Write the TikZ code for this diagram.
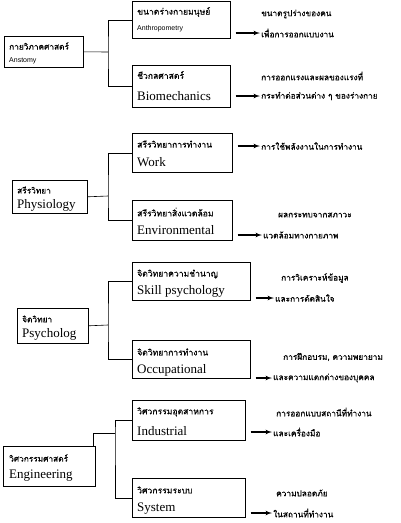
\documentclass[tikz,border=0pt]{standalone}
\usepackage{fontspec}
\setmainfont{Liberation Serif}
\newfontfamily\thaifont[Script=Thai,FakeBold=0.5]{Loma}
\newfontfamily\arialfont{Liberation Sans}
\usetikzlibrary{arrows}
\tikzset{
  box/.style={draw, line width=0.6pt, anchor=north west, inner sep=0pt},
  th/.style={font=\thaifont\fontsize{8.3}{9}\selectfont, anchor=west, inner sep=1pt},
  thb/.style={font=\thaifont\fontsize{8.6}{9}\selectfont, anchor=west, inner sep=1pt},
  en/.style={font=\fontsize{13}{14}\selectfont, anchor=west, inner sep=1pt},
  ensm/.style={font=\arialfont\fontsize{7}{8}\selectfont, anchor=west, inner sep=1pt},
  conn/.style={line width=0.6pt},
  arr/.style={->, >=latex', line width=1.2pt}
}
\begin{document}
\begin{tikzpicture}[x=1pt, y=-1pt]
  \useasboundingbox (0,0) rectangle (400,523);
  % Hauptgruppen
  \node[box, minimum width=79pt, minimum height=31pt] (ana) at (4,36) {};
  \node[th] (anaT) at (8,46) {กายวิภาคศาสตร์};
  \node[ensm] (anaE) at (8,61) {Anstomy};
  \node[box, minimum width=75pt, minimum height=33pt] (phy) at (12,180) {};
  \node[th] (phyT) at (16,190) {สรีรวิทยา};
  \node[en] (phyE) at (16,205) {Physiology};
  \node[box, minimum width=71pt, minimum height=35pt] (psy) at (17,308) {};
  \node[th] (psyT) at (21,319) {จิตวิทยา};
  \node[en] (psyE) at (21,334) {Psycholog};
  \node[box, minimum width=92pt, minimum height=40pt] (eng) at (3,446) {};
  \node[th] (engT) at (8,458) {วิศวกรรมศาสตร์};
  \node[en] (engE) at (8,476) {Engineering};
  % Teilgebiete
  \node[box, minimum width=98pt, minimum height=37pt] (anth) at (132,1) {};
  \node[thb] (anthT) at (136,12) {ขนาดร่างกายมนุษย์};
  \node[ensm] (anthE) at (136,29) {Anthropometry};
  \node[box, minimum width=98pt, minimum height=42pt] (bio) at (132,65) {};
  \node[thb] (bioT) at (136,75) {ชีวกลศาสตร์};
  \node[en] (bioE) at (136,96) {Biomechanics};
  \node[box, minimum width=100pt, minimum height=39pt] (work) at (132,133) {};
  \node[thb] (workT) at (136,144) {สรีรวิทยาการทำงาน};
  \node[en] (workE) at (136,162) {Work};
  \node[box, minimum width=100pt, minimum height=40pt] (env) at (132,200) {};
  \node[thb] (envT) at (136,212) {สรีรวิทยาสิ่งแวดล้อม};
  \node[en] (envE) at (136,230) {Environmental};
  \node[box, minimum width=118pt, minimum height=38pt] (skill) at (132,262) {};
  \node[thb] (skillT) at (136,274) {จิตวิทยาความชำนาญ};
  \node[en] (skillE) at (136,291) {Skill psychology};
  \node[box, minimum width=118pt, minimum height=38pt] (occ) at (132,340) {};
  \node[thb] (occT) at (136,352) {จิตวิทยาการทำงาน};
  \node[en] (occE) at (136,370) {Occupational};
  \node[box, minimum width=113pt, minimum height=40pt] (ind) at (132,400) {};
  \node[thb] (indT) at (136,412) {วิศวกรรมอุตสาหการ};
  \node[en] (indE) at (136,431) {Industrial};
  \node[box, minimum width=113pt, minimum height=39pt] (sys) at (132,478) {};
  \node[thb] (sysT) at (136,490) {วิศวกรรมระบบ};
  \node[en] (sysE) at (136,509) {System};
  % Beschreibungen
  \node[th] (anthA) at (260,14) {ขนาดรูปร่างของคน};
  \node[th] (anthB) at (260,33) {เพื่อการออกแบบงาน};
  \node[th] (bioA) at (260,76) {การออกแรงและผลของแรงที่};
  \node[th] (bioB) at (260,96) {กระทำต่อส่วนต่าง ๆ ของร่างกาย};
  \node[th] (workA) at (260,146) {การใช้พลังงานในการทำงาน};
  \node[th] (envA) at (277,215) {ผลกระทบจากสภาวะ};
  \node[th] (envB) at (262,235) {แวดล้อมทางกายภาพ};
  \node[th] (skillA) at (280,278) {การวิเคราะห์ข้อมูล};
  \node[th] (skillB) at (274,298) {และการตัดสินใจ};
  \node[th] (occA) at (282,357) {การฝึกอบรม, ความพยายาม};
  \node[th] (occB) at (272,378) {และความแตกต่างของบุคคล};
  \node[th] (indA) at (275,412) {การออกแบบสถานีที่ทำงาน};
  \node[th] (indB) at (272,432) {และเครื่องมือ};
  \node[th] (sysA) at (275,493) {ความปลอดภัย};
  \node[th] (sysB) at (272,513) {ในสถานที่ทำงาน};
  % Verbindungen
  \coordinate (j1) at (108,52);
  \coordinate (j2) at (108,196);
  \coordinate (j3) at (108,325);
  \coordinate (j4) at (115,433);
  \draw[conn] (ana.east) -- (j1);
  \draw[conn] (anth.west) -| (j1) |- (bio.west);
  \draw[conn] (phy.east) -- (j2);
  \draw[conn] (work.west) -| (j2) |- (env.west);
  \draw[conn] (psy.east) -- (j3);
  \draw[conn] (skill.west) -| (j3) |- (occ.west);
  \draw[conn] ([xshift=-2pt]eng.north east) |- (j4);
  \draw[conn] (ind.west) -| (j4) |- (sys.west);
  % Pfeile
  \foreach \b/\d in {anth/anthB,bio/bioB,work/workA,env/envB,skill/skillB,occ/occB,ind/indB,sys/sysB}
    \draw[arr] (\b.east |- \d.west) ++(5,0) -- (\d.west);
\end{tikzpicture}
\end{document}
